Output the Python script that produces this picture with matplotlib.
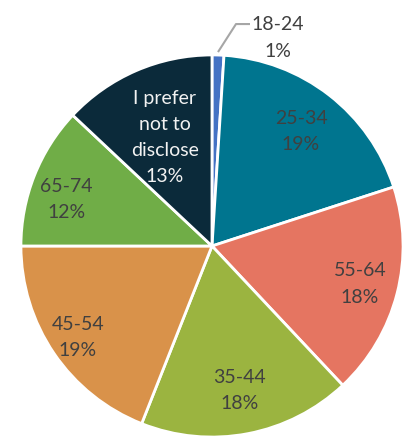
import numpy as np
import matplotlib.pyplot as plt

plt.rcParams['font.family'] = ['Lato', 'DejaVu Sans']

# age groups, clockwise from 12 o'clock
groups = ["18-24", "25-34", "55-64", "35-44", "45-54", "65-74",
          "I prefer\nnot to\ndisclose"]
shares = [1, 19, 18, 18, 19, 12, 13]
colors = ["#4472C4", "#00758F", "#E57561", "#9BB440", "#D9924A",
          "#70AD47", "#0B2A3A"]
text_colors = ["#404040"] * 6 + ["#F2F2F2"]
label_dist = [None, 0.76, 0.80, 0.77, 0.85, 0.80, 0.62]
label_turn = [0, 0, 0, 0, 0, 4, 0]  # degrees, nudges label off the bisector

W, H = 407, 444
fig = plt.figure(figsize=(W / 100, H / 100), dpi=100)
ax = fig.add_axes([0, 0, 1, 1])

cx, cy, R = 212, H - 246, 191
wedges, _ = ax.pie(shares, colors=colors, startangle=90, counterclock=False,
                   explode=[0.045] * len(shares), center=(cx, cy), radius=R,
                   wedgeprops=dict(edgecolor="white", linewidth=2.0))

for w, grp, val, tc, d, t in zip(wedges, groups, shares, text_colors,
                                 label_dist, label_turn):
    if d is None:
        continue
    mid = np.deg2rad((w.theta1 + w.theta2) / 2 + t)
    x = cx + d * R * np.cos(mid)
    y = cy + d * R * np.sin(mid)
    ax.text(x, y, f"{grp}\n{val}%", ha="center", va="center", color=tc,
            fontsize=14, linespacing=1.65)

# small slice gets an outside label with a leader line
w = wedges[0]
mid = np.deg2rad((w.theta1 + w.theta2) / 2)
x0 = w.center[0] + R * np.cos(mid)
y0 = w.center[1] + R * np.sin(mid)
ax.plot([x0, x0 + 18, x0 + 32], [y0 + 3, y0 + 31, y0 + 31],
        color="#A6A6A6", lw=1.5, solid_capstyle="butt")
ax.text(x0 + 60, y0 + 17, f"{groups[0]}\n{shares[0]}%", ha="center",
        va="center", color="#404040", fontsize=14, linespacing=1.65)

ax.set_xlim(0, W)
ax.set_ylim(0, H)
ax.set_aspect("equal")
ax.axis("off")
fig.savefig("out.png", dpi=100)
